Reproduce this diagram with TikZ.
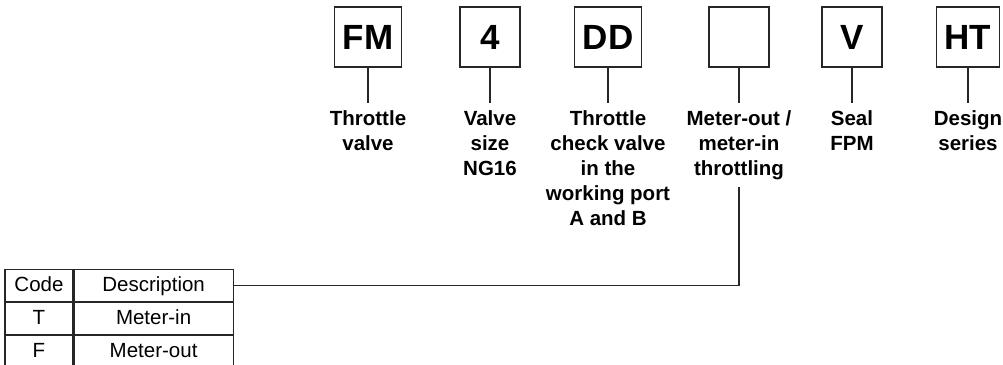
\documentclass[tikz,border=0pt]{standalone}
\usepackage{fontspec}
\setmainfont{Liberation Sans}
\begin{document}
\begin{tikzpicture}[x=1pt,y=-1pt,
  codebox/.style={draw=black!85, line width=1.1pt, minimum width=60pt, minimum height=60pt, inner xsep=8pt, inner ysep=0pt, font=\fontsize{35}{38}\selectfont\bfseries},
  lbl/.style={anchor=north, align=center, inner sep=0pt, font=\fontsize{20.5}{25}\selectfont\bfseries},
  cell/.style={draw=black!85, line width=1.1pt, minimum height=32pt, inner sep=0pt, text height=15pt, text depth=4pt, font=\fontsize{20.5}{24}\selectfont},
  conn/.style={draw=black!85, line width=1.1pt}
]
\useasboundingbox (0,0) rectangle (1003,364);
\clip (0,0) rectangle (1003,364);
% code boxes
\node[codebox] (fm) at (368,37) {FM};
\node[codebox] (sz) at (490,37) {4};
\node[codebox] (dd) at (608,37) {DD};
\node[codebox] (mo) at (739,37) {};
\node[codebox] (se) at (852,37) {V};
\node[codebox] (ht) at (968,37) {HT};
% labels
\node[lbl] (fml) at (368,110) {Throttle\\valve};
\node[lbl] (szl) at (490,110) {Valve\\size\\NG16};
\node[lbl] (ddl) at (608,110) {Throttle\\check valve\\in the\\working port\\A and B};
\node[lbl] (mol) at (739,110) {Meter-out /\\meter-in\\throttling};
\node[lbl] (sel) at (852,110) {Seal\\FPM};
\node[lbl] (htl) at (968,110) {Design\\series};
% connectors
\foreach \a/\b in {fm/fml,sz/szl,dd/ddl,mo/mol,se/sel,ht/htl}
  \draw[conn, shorten >=7pt] (\a.south) -- (\b.north);
% table
\node[cell, minimum width=68pt] (c0) at (39,285.5) {Code};
\node[cell, minimum width=159pt, anchor=west] (d0) at (c0.east) {Description};
\node[cell, minimum width=68pt, anchor=north] (c1) at (c0.south) {T};
\node[cell, minimum width=159pt, anchor=west] (d1) at (c1.east) {Meter-in};
\node[cell, minimum width=68pt, anchor=north] (c2) at (c1.south) {F};
\node[cell, minimum width=159pt, anchor=west] (d2) at (c2.east) {Meter-out};
\draw[conn, shorten >=7pt] (d0.east) -| (mol.south);
\end{tikzpicture}
\end{document}
